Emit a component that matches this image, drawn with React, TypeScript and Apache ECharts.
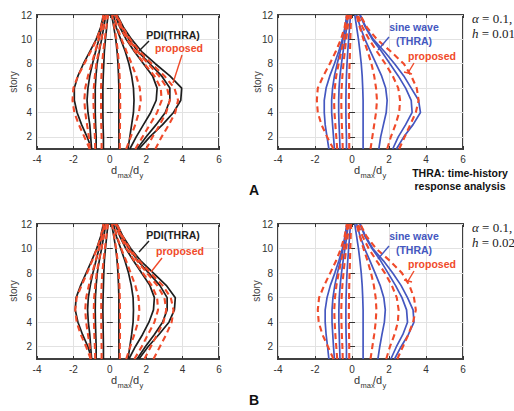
import React, { useEffect, useRef } from "react";
import * as echarts from "echarts";

const STORIES = [1, 2, 3, 4, 5, 6, 7, 8, 9, 10, 11, 12];
const Y_TICKS = [2, 4, 6, 8, 10, 12];
const X_TICKS = [-4, -2, 0, 2, 4, 6];

// A: top-left, PDI(THRA) (solid black) and proposed (dashed red); x value at stories 1..12
const TL_PDI_1 = [-1.0, -1.25, -1.55, -1.8, -1.95, -1.95, -1.75, -1.45, -1.1, -0.75, -0.5, -0.35];
const TL_PDI_2 = [-1.0, -1.05, -1.1, -1.2, -1.25, -1.2, -1.1, -0.95, -0.78, -0.6, -0.45, -0.3];
const TL_PDI_3 = [-0.75, -0.75, -0.78, -0.8, -0.8, -0.8, -0.76, -0.7, -0.58, -0.45, -0.33, -0.22];
const TL_PDI_4 = [-0.35, -0.35, -0.37, -0.38, -0.38, -0.38, -0.36, -0.33, -0.3, -0.24, -0.17, -0.1];
const TL_PDI_5 = [0.5, 0.5, 0.5, 0.5, 0.5, 0.5, 0.48, 0.45, 0.4, 0.33, 0.22, 0.1];
const TL_PDI_6 = [1.0, 1.1, 1.2, 1.3, 1.33, 1.3, 1.2, 1.05, 0.85, 0.6, 0.35, 0.2];
const TL_PDI_7 = [1.1, 1.45, 1.85, 2.25, 2.55, 2.6, 2.35, 1.85, 1.35, 0.9, 0.55, 0.3];
const TL_PDI_8 = [1.5, 2.0, 2.55, 3.05, 3.3, 3.3, 2.85, 2.2, 1.55, 1.05, 0.65, 0.35];
const TL_PDI_9 = [1.6, 2.2, 2.9, 3.5, 3.9, 3.95, 3.3, 2.5, 1.75, 1.2, 0.75, 0.4];

const TL_PROP_1 = [-1.1, -1.4, -1.7, -1.95, -2.05, -2.0, -1.75, -1.4, -1.05, -0.72, -0.48, -0.35];
const TL_PROP_2 = [-1.1, -1.15, -1.25, -1.35, -1.4, -1.35, -1.2, -1.0, -0.8, -0.62, -0.45, -0.3];
const TL_PROP_3 = [-0.8, -0.82, -0.85, -0.88, -0.9, -0.88, -0.82, -0.74, -0.61, -0.47, -0.34, -0.22];
const TL_PROP_4 = [-0.45, -0.45, -0.47, -0.48, -0.48, -0.48, -0.46, -0.42, -0.36, -0.28, -0.19, -0.1];
const TL_PROP_5 = [0.55, 0.55, 0.56, 0.57, 0.57, 0.56, 0.54, 0.5, 0.44, 0.36, 0.25, 0.12];
const TL_PROP_6 = [0.9, 1.15, 1.4, 1.6, 1.7, 1.65, 1.45, 1.2, 0.92, 0.65, 0.4, 0.22];
const TL_PROP_7 = [1.4, 1.8, 2.2, 2.6, 2.85, 2.8, 2.45, 1.9, 1.4, 0.95, 0.58, 0.32];
const TL_PROP_8 = [2.0, 2.35, 2.75, 3.1, 3.3, 3.15, 2.7, 2.1, 1.52, 1.05, 0.66, 0.36];
const TL_PROP_9 = [2.5, 2.85, 3.25, 3.6, 3.75, 3.55, 3.0, 2.3, 1.65, 1.12, 0.7, 0.38];

// A: top-right, sine wave (THRA) (solid blue) and proposed (dashed red)
const TR_SINE_1 = [-1.25, -1.35, -1.45, -1.5, -1.5, -1.4, -1.2, -0.95, -0.72, -0.52, -0.38, -0.28];
const TR_SINE_2 = [-0.95, -1.0, -1.05, -1.1, -1.1, -1.05, -0.95, -0.8, -0.64, -0.48, -0.35, -0.25];
const TR_SINE_3 = [-0.65, -0.67, -0.7, -0.72, -0.72, -0.7, -0.65, -0.57, -0.48, -0.38, -0.28, -0.2];
const TR_SINE_4 = [-0.3, -0.3, -0.32, -0.33, -0.33, -0.32, -0.3, -0.27, -0.23, -0.18, -0.13, -0.08];
const TR_SINE_5 = [0.6, 0.6, 0.6, 0.6, 0.6, 0.58, 0.55, 0.5, 0.43, 0.35, 0.25, 0.15];
const TR_SINE_6 = [1.45, 1.55, 1.7, 1.85, 1.9, 1.82, 1.6, 1.3, 1.0, 0.7, 0.45, 0.25];
const TR_SINE_7 = [2.2, 2.5, 2.9, 3.25, 3.2, 2.9, 2.5, 2.05, 1.6, 1.1, 0.72, 0.42];
const TR_SINE_8 = [2.4, 2.8, 3.3, 3.7, 3.6, 3.2, 2.8, 2.3, 1.75, 1.15, 0.75, 0.45];

const TR_PROP_1 = [-1.0, -1.35, -1.65, -1.85, -1.9, -1.85, -1.55, -1.2, -0.88, -0.6, -0.4, -0.28];
const TR_PROP_2 = [-0.8, -0.85, -0.9, -0.95, -0.97, -0.93, -0.85, -0.72, -0.58, -0.44, -0.33, -0.24];
const TR_PROP_3 = [-0.5, -0.52, -0.55, -0.57, -0.58, -0.56, -0.52, -0.46, -0.39, -0.31, -0.23, -0.16];
const TR_PROP_4 = [-0.15, -0.15, -0.16, -0.17, -0.17, -0.16, -0.15, -0.13, -0.11, -0.09, -0.07, -0.05];
const TR_PROP_5 = [1.0, 1.1, 1.2, 1.3, 1.35, 1.3, 1.2, 1.05, 0.85, 0.62, 0.42, 0.25];
const TR_PROP_6 = [1.9, 2.1, 2.35, 2.55, 2.6, 2.5, 2.2, 1.8, 1.35, 0.92, 0.57, 0.32];
const TR_PROP_7 = [2.55, 2.85, 3.15, 3.45, 3.6, 3.5, 3.2, 2.8, 2.1, 1.35, 0.8, 0.45];

// B: bottom-left
const BL_PDI_1 = [-1.0, -1.2, -1.5, -1.75, -1.9, -1.85, -1.6, -1.3, -1.0, -0.72, -0.5, -0.35];
const BL_PDI_2 = [-1.0, -1.05, -1.1, -1.18, -1.22, -1.18, -1.07, -0.93, -0.76, -0.59, -0.44, -0.3];
const BL_PDI_3 = [-0.75, -0.75, -0.77, -0.79, -0.8, -0.79, -0.75, -0.69, -0.58, -0.45, -0.33, -0.22];
const BL_PDI_4 = [-0.35, -0.35, -0.36, -0.37, -0.38, -0.37, -0.35, -0.33, -0.3, -0.24, -0.17, -0.1];
const BL_PDI_5 = [0.5, 0.5, 0.5, 0.5, 0.5, 0.5, 0.48, 0.45, 0.4, 0.33, 0.22, 0.1];
const BL_PDI_6 = [1.0, 1.1, 1.2, 1.28, 1.3, 1.28, 1.18, 1.03, 0.83, 0.6, 0.36, 0.2];
const BL_PDI_7 = [1.05, 1.4, 1.8, 2.15, 2.4, 2.45, 2.2, 1.75, 1.3, 0.88, 0.55, 0.3];
const BL_PDI_8 = [1.5, 1.95, 2.45, 2.9, 3.15, 3.15, 2.75, 2.15, 1.55, 1.05, 0.65, 0.35];
const BL_PDI_9 = [1.6, 2.1, 2.7, 3.25, 3.55, 3.6, 3.1, 2.4, 1.7, 1.15, 0.72, 0.4];

const BL_PROP_1 = [-1.05, -1.3, -1.6, -1.82, -1.9, -1.82, -1.55, -1.25, -0.97, -0.7, -0.48, -0.35];
const BL_PROP_2 = [-1.05, -1.1, -1.2, -1.3, -1.35, -1.3, -1.15, -0.97, -0.78, -0.6, -0.44, -0.3];
const BL_PROP_3 = [-0.8, -0.82, -0.85, -0.87, -0.88, -0.86, -0.8, -0.72, -0.6, -0.46, -0.34, -0.22];
const BL_PROP_4 = [-0.45, -0.45, -0.46, -0.47, -0.47, -0.47, -0.45, -0.41, -0.35, -0.27, -0.19, -0.1];
const BL_PROP_5 = [0.55, 0.55, 0.56, 0.56, 0.56, 0.55, 0.53, 0.49, 0.43, 0.35, 0.24, 0.12];
const BL_PROP_6 = [0.9, 1.12, 1.35, 1.55, 1.62, 1.58, 1.4, 1.15, 0.9, 0.63, 0.39, 0.22];
const BL_PROP_7 = [1.35, 1.75, 2.1, 2.45, 2.65, 2.6, 2.3, 1.82, 1.35, 0.92, 0.57, 0.32];
const BL_PROP_8 = [1.9, 2.25, 2.6, 2.95, 3.1, 3.0, 2.6, 2.05, 1.5, 1.03, 0.65, 0.36];
const BL_PROP_9 = [2.4, 2.75, 3.1, 3.4, 3.5, 3.35, 2.9, 2.25, 1.62, 1.1, 0.7, 0.38];

// B: bottom-right
const BR_SINE_1 = [-1.25, -1.32, -1.4, -1.45, -1.45, -1.35, -1.17, -0.93, -0.71, -0.52, -0.38, -0.28];
const BR_SINE_2 = [-0.95, -1.0, -1.04, -1.08, -1.08, -1.03, -0.93, -0.79, -0.63, -0.48, -0.35, -0.25];
const BR_SINE_3 = [-0.65, -0.67, -0.69, -0.71, -0.71, -0.69, -0.64, -0.57, -0.48, -0.38, -0.28, -0.2];
const BR_SINE_4 = [-0.3, -0.3, -0.32, -0.33, -0.33, -0.32, -0.3, -0.27, -0.23, -0.18, -0.13, -0.08];
const BR_SINE_5 = [0.6, 0.6, 0.6, 0.6, 0.6, 0.58, 0.55, 0.5, 0.43, 0.35, 0.25, 0.15];
const BR_SINE_6 = [1.4, 1.5, 1.62, 1.75, 1.8, 1.72, 1.52, 1.25, 0.97, 0.68, 0.44, 0.25];
const BR_SINE_7 = [2.1, 2.4, 2.75, 3.0, 2.95, 2.7, 2.35, 1.95, 1.55, 1.08, 0.7, 0.42];
const BR_SINE_8 = [2.3, 2.65, 3.05, 3.35, 3.3, 3.0, 2.65, 2.2, 1.7, 1.12, 0.73, 0.45];

const BR_PROP_1 = [-1.0, -1.3, -1.6, -1.8, -1.85, -1.78, -1.5, -1.18, -0.86, -0.6, -0.4, -0.28];
const BR_PROP_2 = [-0.8, -0.85, -0.9, -0.94, -0.96, -0.92, -0.84, -0.72, -0.58, -0.44, -0.33, -0.24];
const BR_PROP_3 = [-0.5, -0.52, -0.55, -0.57, -0.58, -0.56, -0.52, -0.46, -0.39, -0.31, -0.23, -0.16];
const BR_PROP_4 = [-0.15, -0.15, -0.16, -0.17, -0.17, -0.16, -0.15, -0.13, -0.11, -0.09, -0.07, -0.05];
const BR_PROP_5 = [1.0, 1.1, 1.2, 1.28, 1.32, 1.28, 1.18, 1.03, 0.84, 0.62, 0.42, 0.25];
const BR_PROP_6 = [1.85, 2.05, 2.3, 2.48, 2.52, 2.42, 2.15, 1.78, 1.33, 0.9, 0.57, 0.32];
const BR_PROP_7 = [2.45, 2.75, 3.05, 3.3, 3.45, 3.35, 3.1, 2.7, 2.05, 1.3, 0.78, 0.45];

const TL_PDI = [TL_PDI_1, TL_PDI_2, TL_PDI_3, TL_PDI_4, TL_PDI_5, TL_PDI_6, TL_PDI_7, TL_PDI_8, TL_PDI_9];
const TL_PROP = [TL_PROP_1, TL_PROP_2, TL_PROP_3, TL_PROP_4, TL_PROP_5, TL_PROP_6, TL_PROP_7, TL_PROP_8, TL_PROP_9];
const TR_SINE = [TR_SINE_1, TR_SINE_2, TR_SINE_3, TR_SINE_4, TR_SINE_5, TR_SINE_6, TR_SINE_7, TR_SINE_8];
const TR_PROP = [TR_PROP_1, TR_PROP_2, TR_PROP_3, TR_PROP_4, TR_PROP_5, TR_PROP_6, TR_PROP_7];
const BL_PDI = [BL_PDI_1, BL_PDI_2, BL_PDI_3, BL_PDI_4, BL_PDI_5, BL_PDI_6, BL_PDI_7, BL_PDI_8, BL_PDI_9];
const BL_PROP = [BL_PROP_1, BL_PROP_2, BL_PROP_3, BL_PROP_4, BL_PROP_5, BL_PROP_6, BL_PROP_7, BL_PROP_8, BL_PROP_9];
const BR_SINE = [BR_SINE_1, BR_SINE_2, BR_SINE_3, BR_SINE_4, BR_SINE_5, BR_SINE_6, BR_SINE_7, BR_SINE_8];
const BR_PROP = [BR_PROP_1, BR_PROP_2, BR_PROP_3, BR_PROP_4, BR_PROP_5, BR_PROP_6, BR_PROP_7];

const BLACK = "#1e1e1e";
const RED = "#f04a2a";
const BLUE = "#4457c0";
const FONT = "Liberation Sans, Arial, sans-serif";
const SERIF = "Liberation Serif, Times New Roman, serif";

const GRIDS = [
  { left: 37, top: 15, width: 182, height: 134 },
  { left: 278, top: 15, width: 185, height: 134 },
  { left: 37, top: 224, width: 182, height: 135 },
  { left: 278, top: 224, width: 185, height: 135 },
];

function curveSeries(gi: number, curves: number[][], color: string, dashed: boolean) {
  return curves.map((c) => ({
    type: "line",
    xAxisIndex: gi,
    yAxisIndex: gi,
    data: STORIES.map((s, i) => [c[i], s]),
    symbol: "none",
    silent: true,
    z: dashed ? 4 : 3,
    lineStyle: { color, width: dashed ? 2.1 : 1.7, type: dashed ? [6, 4] : "solid" },
  }));
}

function buildOption() {
  const xAxes: any[] = [];
  const yAxes: any[] = [];
  GRIDS.forEach((_, gi) => {
    xAxes.push({
      gridIndex: gi, type: "value", min: -4, max: 6, interval: 2,
      axisLine: { show: false },
      axisTick: { inside: true, length: 3, lineStyle: { color: "#333" } },
      axisLabel: { color: "#333", fontSize: 10, margin: 5, fontFamily: FONT, customValues: X_TICKS },
      splitLine: { show: true, lineStyle: { color: "#e2e2e2", width: 1 } },
    });
    yAxes.push({
      gridIndex: gi, type: "value", min: 1, max: 12,
      axisLine: { show: false },
      axisTick: { inside: true, length: 3, customValues: Y_TICKS, lineStyle: { color: "#333" } },
      axisLabel: { color: "#333", fontSize: 10, margin: 5, fontFamily: FONT, customValues: Y_TICKS },
      splitLine: { show: true, lineStyle: { color: "#e2e2e2", width: 1 } },
    });
  });
  GRIDS.forEach((_, gi) => {
    xAxes.push({
      gridIndex: gi, type: "value", min: -4, max: 6, interval: 2, position: "top",
      axisLine: { show: false }, axisLabel: { show: false }, splitLine: { show: false },
      axisTick: { inside: true, length: 3, lineStyle: { color: "#333" } },
    });
    yAxes.push({
      gridIndex: gi, type: "value", min: 1, max: 12, position: "right",
      axisLine: { show: false }, axisLabel: { show: false }, splitLine: { show: false },
      axisTick: { inside: true, length: 3, customValues: Y_TICKS, lineStyle: { color: "#333" } },
    });
  });

  const series = [
    ...curveSeries(0, TL_PDI, BLACK, false),
    ...curveSeries(0, TL_PROP, RED, true),
    ...curveSeries(1, TR_SINE, BLUE, false),
    ...curveSeries(1, TR_PROP, RED, true),
    ...curveSeries(2, BL_PDI, BLACK, false),
    ...curveSeries(2, BL_PROP, RED, true),
    ...curveSeries(3, BR_SINE, BLUE, false),
    ...curveSeries(3, BR_PROP, RED, true),
  ];

  const txt = (x: number, y: number, text: string, fill: string, size: number, bold = true, extra: any = {}) => ({
    type: "text", x, y, z: 20,
    style: { text, fill, fontSize: size, fontWeight: bold ? "bold" : "normal", fontFamily: FONT, align: "center", verticalAlign: "middle", ...extra },
  });
  const ln = (x1: number, y1: number, x2: number, y2: number, stroke: string) => ({
    type: "line", z: 20, shape: { x1, y1, x2, y2 }, style: { stroke, lineWidth: 1.4 },
  });
  const part = (x: number, y: number, text: string, size: number) => ({
    type: "text", x, y, z: 20,
    style: { text, fontSize: size, fill: "#333", fontFamily: FONT, align: "left", verticalAlign: "middle" },
  });
  const dlabel = (cx: number, cy: number) => ({
    type: "group", x: cx - 17, y: cy, z: 20,
    children: [
      part(0, 0, "d", 11),
      part(6.5, 5, "max", 7.5),
      part(19, 0, "/d", 11),
      part(28.5, 5, "y", 7.5),
    ],
  });
  const story = (x: number, y: number) => ({
    type: "text", x, y, rotation: Math.PI / 2, z: 20,
    style: { text: "story", fontSize: 10, fill: "#444", fontFamily: FONT, align: "center", verticalAlign: "middle" },
  });
  const greek = (x: number, y: number, sym: string, rest: string) => ({
    type: "text", x, y, z: 20,
    style: {
      text: `{i|${sym}}{n|${rest}}`, align: "left", verticalAlign: "middle",
      rich: {
        i: { fontSize: 13, fontStyle: "italic", fontFamily: SERIF, fill: "#222" },
        n: { fontSize: 13, fontFamily: SERIF, fill: "#222" },
      },
    },
  });

  const graphic = [
    // Panel A annotations
    txt(173, 35, "PDI(THRA)", BLACK, 10.5),
    txt(179, 48, "proposed", RED, 10.5),
    ln(149, 41, 139, 51, BLACK),
    ln(182, 55, 173, 83, RED),
    txt(414, 27, "sine wave", BLUE, 10.5),
    txt(414, 41, "(THRA)", BLUE, 10.5),
    txt(432, 56, "proposed", RED, 10.5),
    ln(389, 37, 378, 50, BLUE),
    ln(414, 63, 408, 73, RED),
    ln(404, 72, 412, 74, RED),
    greek(472, 18, "α", " = 0.1,"),
    greek(472, 33, "h", " = 0.01"),
    txt(460, 173, "THRA: time-history", "#111", 10.5),
    txt(460, 186, "response analysis", "#111", 10.5),
    txt(254, 190, "A", "#111", 14),
    // Panel B annotations
    txt(173, 235, "PDI(THRA)", BLACK, 10.5),
    txt(180, 251, "proposed", RED, 10.5),
    ln(149, 241, 139, 252, BLACK),
    ln(162, 258, 151, 272, RED),
    txt(414, 236, "sine wave", BLUE, 10.5),
    txt(414, 250, "(THRA)", BLUE, 10.5),
    txt(432, 264, "proposed", RED, 10.5),
    ln(389, 246, 378, 259, BLUE),
    ln(414, 271, 408, 281, RED),
    ln(404, 280, 412, 282, RED),
    greek(472, 227, "α", " = 0.1,"),
    greek(472, 242, "h", " = 0.02"),
    txt(254, 400, "B", "#111", 14),
    // axis titles
    dlabel(128, 170), dlabel(371, 170), dlabel(128, 380), dlabel(371, 380),
    story(13, 82), story(257, 82), story(13, 291), story(256, 291),
  ];

  return {
    animation: false,
    backgroundColor: "#ffffff",
    grid: GRIDS.map((g) => ({ ...g, show: true, borderColor: "#404040", borderWidth: 2, backgroundColor: "#fff", containLabel: false })),
    xAxis: xAxes,
    yAxis: yAxes,
    series,
    graphic,
  };
}

export default function App() {
  const ref = useRef<HTMLDivElement>(null);
  useEffect(() => {
    if (!ref.current) return;
    const chart = echarts.init(ref.current, undefined, { renderer: "svg" });
    chart.setOption(buildOption() as any);
    return () => chart.dispose();
  }, []);
  return <div ref={ref} style={{ position: "absolute", left: 0, top: 0, width: 514, height: 411, background: "#fff" }} />;
}
